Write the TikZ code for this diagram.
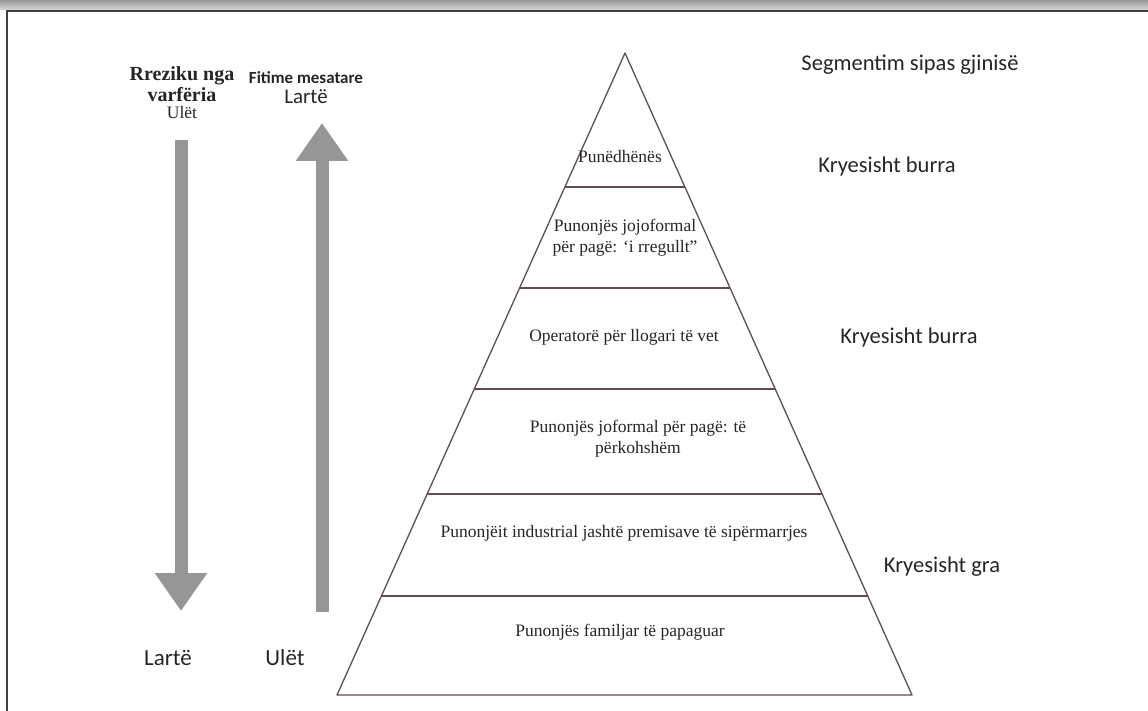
\documentclass[tikz,border=0pt]{standalone}
\usepackage{xcolor}
\usepackage{fontspec}
\setmainfont{Liberation Serif}
\setsansfont{Carlito}
\usepackage{tikz}
\usetikzlibrary{arrows.meta,positioning,calc}

\definecolor{pyrline}{RGB}{95,78,78}
\definecolor{arrowgray}{RGB}{150,150,150}
\definecolor{inktext}{RGB}{40,36,36}

\begin{document}
\begin{tikzpicture}[x=1pt, y=-1pt,
    node distance=3pt,
    layer/.style={font=\fontsize{17.5}{21}\selectfont, text=inktext, align=center, inner sep=0pt},
    side/.style={font=\sffamily\fontsize{22.5}{26}\selectfont, text=inktext, inner sep=0pt},
    riskhead/.style={font=\bfseries\fontsize{20}{21}\selectfont, text=inktext, align=center, inner sep=0pt},
    gainhead/.style={font=\sffamily\bfseries\fontsize{17}{20}\selectfont, text=inktext, inner sep=0pt},
    scale label/.style={font=\sffamily\fontsize{21}{24}\selectfont, text=inktext, inner sep=0pt},
    band/.style={draw=pyrline, line width=1.3pt},
    bigarrow/.style={draw=arrowgray, line width=13pt, -{Triangle[width=50pt,length=38pt]}}
]
    \useasboundingbox (0,0) rectangle (1148,711);
    \shade[top color=gray!80, bottom color=gray!30] (0,0) rectangle (1148,10);
    \draw[black!75, line width=1.5pt] (7,711) -- (7,11) -- (1148,11);

    % pyramid
    \coordinate (apex) at (625,53);
    \coordinate (baseL) at (337,695);
    \coordinate (baseR) at (912,695);
    \draw[band, line join=round] (apex) -- (baseL) -- (baseR) -- cycle;
    \foreach \t in {0.2087,0.366,0.5234,0.6869,0.8458}
        \draw[band] ($(apex)!\t!(baseL)$) -- ($(apex)!\t!(baseR)$);

    \node[layer] (employer) at (620,157) {Punëdhënës};
    \node[layer] (regular) at (625,238) {Punonjës jojoformal\\për pagë: ‘i rregullt”};
    \node[layer] (ownacc) at (624,337) {Operatorë për llogari të vet};
    \node[layer] (casual) at (638,439) {Punonjës joformal për pagë: të\\përkohshëm};
    \node[layer] (industrial) at (624,533) {Punonjëit industrial jashtë premisave të sipërmarrjes};
    \node[layer] (family) at (620,632) {Punonjës familjar të papaguar};

    % gender column
    \node[side] (gender) at (910,65) {Segmentim sipas gjinisë};
    \node[side] (men1) at (887,167) {Kryesisht burra};
    \node[side] (men2) at (909,338) {Kryesisht burra};
    \node[side] (women) at (942,567) {Kryesisht gra};

    % risk and earnings
    \node[riskhead] (risk) at (182,84) {Rreziku nga\\varfëria};
    \node[layer, below=4pt of risk] (riskLow) {Ulët};
    \node[gainhead] (gain) at (306,78) {Fitime mesatare};
    \node[scale label, below=5pt of gain] (gainHigh) {Lartë};
    \node[scale label, font=\sffamily\fontsize{23}{26}\selectfont] (riskHigh) at (168,658) {Lartë};
    \node[scale label, font=\sffamily\fontsize{23}{26}\selectfont] (gainLow) at (285,658) {Ulët};

    \coordinate (riskTop) at (181,140);
    \coordinate (riskEnd) at (181,611);
    \coordinate (gainBot) at (322,612);
    \coordinate (gainEnd) at (322,123);
    \draw[bigarrow] (riskTop) -- (riskEnd);
    \draw[bigarrow] (gainBot) -- (gainEnd);
\end{tikzpicture}
\end{document}
